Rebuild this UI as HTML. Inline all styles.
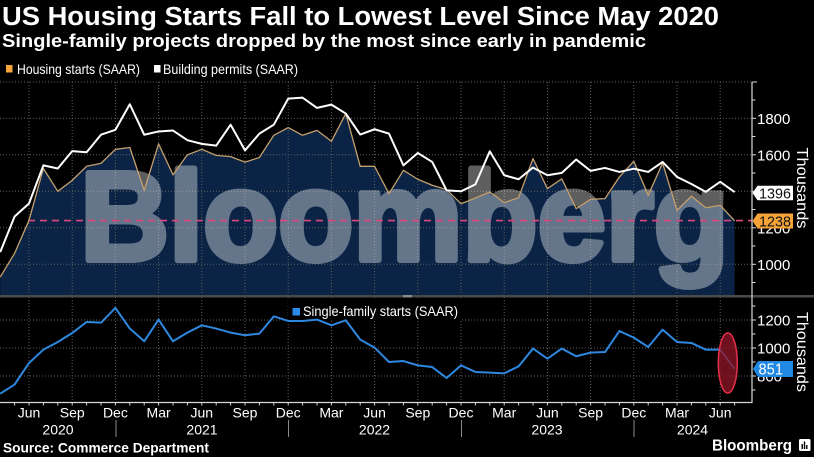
<!DOCTYPE html>
<html><head><meta charset="utf-8"><style>
html,body{margin:0;padding:0;background:#000;}
svg{display:block;}
text{font-family:"Liberation Sans",Arial,sans-serif;}
</style></head><body>
<svg width="814" height="457" viewBox="0 0 814 457" xmlns="http://www.w3.org/2000/svg">
<rect x="0" y="0" width="814" height="457" fill="#000"/>
<defs>
<clipPath id="topc"><rect x="0" y="80" width="752" height="215"/></clipPath>
<clipPath id="botc"><rect x="0" y="297" width="752" height="106"/></clipPath>
</defs>

<!-- Title -->
<text x="2" y="25" font-size="25.5" font-weight="bold" fill="#fff" textLength="717" lengthAdjust="spacingAndGlyphs">US Housing Starts Fall to Lowest Level Since May 2020</text>
<text x="2" y="47" font-size="18.5" font-weight="bold" fill="#fff" textLength="644" lengthAdjust="spacingAndGlyphs">Single-family projects dropped by the most since early in pandemic</text>

<!-- Legend top -->
<rect x="6" y="65" width="6.5" height="7.5" fill="#f5a33a"/>
<text x="17" y="74" font-size="14" fill="#fff" textLength="123" lengthAdjust="spacingAndGlyphs">Housing starts (SAAR)</text>
<rect x="154" y="65" width="6.5" height="7.5" fill="#fff"/>
<text x="163" y="74" font-size="14" fill="#fff" textLength="135" lengthAdjust="spacingAndGlyphs">Building permits (SAAR)</text>

<!-- TOP PANEL -->
<g clip-path="url(#topc)">
  <path transform="matrix(14.4 0 0 -0.1825 0.2 446.8)" fill="#0b2446" d="M0,820 L0,930 1,1060 2,1241 3,1525 4,1400 5,1460 6,1537 7,1553 8,1630 9,1640 10,1405 11,1660 12,1490 13,1600 14,1630 15,1597 16,1590 17,1560 18,1585 19,1707 20,1749 21,1707 22,1734 23,1674 24,1826 25,1537 26,1537 27,1387 28,1515 29,1466 30,1433 31,1409 32,1332 33,1363 34,1396 35,1338 36,1365 37,1579 38,1415 39,1468 40,1305 41,1356 42,1360 43,1479 44,1564 45,1378 46,1555 47,1296 48,1373 49,1310 50,1323 51,1238 L51,820 Z"/>
  <g stroke="#5f5f5f" stroke-width="1" stroke-dasharray="1,2" fill="none">
    <line x1="0" y1="82" x2="752" y2="82"/>
    <line x1="0" y1="118.3" x2="752" y2="118.3"/>
    <line x1="0" y1="154.8" x2="752" y2="154.8"/>
    <line x1="0" y1="191.3" x2="752" y2="191.3"/>
    <line x1="0" y1="227.8" x2="752" y2="227.8"/>
    <line x1="0" y1="264.3" x2="752" y2="264.3"/>
    <line x1="29" y1="82" x2="29" y2="295"/>
    <line x1="72.2" y1="82" x2="72.2" y2="295"/>
    <line x1="115.4" y1="82" x2="115.4" y2="295"/>
    <line x1="158.6" y1="82" x2="158.6" y2="295"/>
    <line x1="201.8" y1="82" x2="201.8" y2="295"/>
    <line x1="245" y1="82" x2="245" y2="295"/>
    <line x1="288.2" y1="82" x2="288.2" y2="295"/>
    <line x1="331.4" y1="82" x2="331.4" y2="295"/>
    <line x1="374.6" y1="82" x2="374.6" y2="295"/>
    <line x1="417.8" y1="82" x2="417.8" y2="295"/>
    <line x1="461" y1="82" x2="461" y2="295"/>
    <line x1="504.2" y1="82" x2="504.2" y2="295"/>
    <line x1="547.4" y1="82" x2="547.4" y2="295"/>
    <line x1="590.6" y1="82" x2="590.6" y2="295"/>
    <line x1="633.8" y1="82" x2="633.8" y2="295"/>
    <line x1="677" y1="82" x2="677" y2="295"/>
    <line x1="720.2" y1="82" x2="720.2" y2="295"/>
  </g>
  <g opacity="0.37">
    <text x="80.3" y="260" font-size="126" font-weight="bold" fill="#ffffff" stroke="#ffffff" stroke-width="6" stroke-linejoin="round" textLength="648.5" lengthAdjust="spacingAndGlyphs">Bloomberg</text>
  </g>
  <line x1="28" y1="220.6" x2="752" y2="220.6" stroke="#e0457e" stroke-width="1.6" stroke-dasharray="7,5"/>
  <polyline transform="matrix(14.4 0 0 -0.1825 0.2 446.8)" fill="none" stroke="#c4a06c" stroke-width="1.3" vector-effect="non-scaling-stroke" stroke-linejoin="round" points="0,930 1,1060 2,1241 3,1525 4,1400 5,1460 6,1537 7,1553 8,1630 9,1640 10,1405 11,1660 12,1490 13,1600 14,1630 15,1597 16,1590 17,1560 18,1585 19,1707 20,1749 21,1707 22,1734 23,1674 24,1826 25,1537 26,1537 27,1387 28,1515 29,1466 30,1433 31,1409 32,1332 33,1363 34,1396 35,1338 36,1365 37,1579 38,1415 39,1468 40,1305 41,1356 42,1360 43,1479 44,1564 45,1378 46,1555 47,1296 48,1373 49,1310 50,1323 51,1238"/>
  <polyline transform="matrix(14.4 0 0 -0.1825 0.2 446.8)" fill="none" stroke="#ffffff" stroke-width="2" vector-effect="non-scaling-stroke" stroke-linejoin="round" points="0,1067 1,1262 2,1333 3,1542 4,1525 5,1620 6,1614 7,1710 8,1737 9,1877 10,1710 11,1728 12,1733 13,1680 14,1660 15,1650 16,1765 17,1624 18,1716 19,1765 20,1908 21,1913 22,1857 23,1875 24,1826 25,1711 26,1740 27,1716 28,1542 29,1610 30,1561 31,1405 32,1400 33,1438 34,1619 35,1488 36,1466 37,1530 38,1488 39,1501 40,1574 41,1512 42,1528 43,1506 44,1524 45,1506 46,1561 47,1479 48,1440 49,1397 50,1452 51,1396"/>
</g>

<!-- separator -->
<rect x="0" y="295" width="814" height="2.5" fill="#4a4a4a"/>
<rect x="403" y="295" width="9" height="2.5" fill="#8a8a8a"/>

<!-- BOTTOM PANEL -->
<g clip-path="url(#botc)">
  <g stroke="#5f5f5f" stroke-width="1" stroke-dasharray="1,2" fill="none">
    <line x1="0" y1="320" x2="752" y2="320"/>
    <line x1="0" y1="348" x2="752" y2="348"/>
    <line x1="0" y1="376" x2="752" y2="376"/>
    <line x1="29" y1="297" x2="29" y2="402"/>
    <line x1="72.2" y1="297" x2="72.2" y2="402"/>
    <line x1="115.4" y1="297" x2="115.4" y2="402"/>
    <line x1="158.6" y1="297" x2="158.6" y2="402"/>
    <line x1="201.8" y1="297" x2="201.8" y2="402"/>
    <line x1="245" y1="297" x2="245" y2="402"/>
    <line x1="288.2" y1="297" x2="288.2" y2="402"/>
    <line x1="331.4" y1="297" x2="331.4" y2="402"/>
    <line x1="374.6" y1="297" x2="374.6" y2="402"/>
    <line x1="417.8" y1="297" x2="417.8" y2="402"/>
    <line x1="461" y1="297" x2="461" y2="402"/>
    <line x1="504.2" y1="297" x2="504.2" y2="402"/>
    <line x1="547.4" y1="297" x2="547.4" y2="402"/>
    <line x1="590.6" y1="297" x2="590.6" y2="402"/>
    <line x1="633.8" y1="297" x2="633.8" y2="402"/>
    <line x1="677" y1="297" x2="677" y2="402"/>
    <line x1="720.2" y1="297" x2="720.2" y2="402"/>
  </g>
  <rect x="288" y="300" width="174" height="21" fill="#000"/>
  <rect x="292.5" y="308" width="7.5" height="7.5" fill="#2a8be6"/>
  <text x="303" y="316" font-size="14" fill="#fff" textLength="155" lengthAdjust="spacingAndGlyphs">Single-family starts (SAAR)</text>
  <polyline transform="matrix(14.4 0 0 -0.14 0.2 488)" fill="none" stroke="#2e88df" stroke-width="2" vector-effect="non-scaling-stroke" stroke-linejoin="round" points="0,674 1,739 2,893 3,988 4,1043 5,1107 6,1186 7,1181 8,1286 9,1139 10,1048 11,1203 12,1048 13,1110 14,1162 15,1139 16,1110 17,1091 18,1103 19,1226 20,1193 21,1193 22,1203 23,1162 24,1198 25,1060 26,1003 27,900 28,907 29,876 30,864 31,786 32,876 33,829 34,824 35,819 36,869 37,996 38,924 39,996 40,941 41,967 42,971 43,1121 44,1074 45,1007 46,1131 47,1043 48,1036 49,988 50,988 51,851"/>
</g>
<ellipse cx="727.8" cy="363" rx="9.5" ry="30" fill="#8e1426" fill-opacity="0.78" stroke="#e3304c" stroke-width="1.5"/>

<!-- Right axis -->
<line x1="752" y1="82" x2="752" y2="403" stroke="#d8d8d8" stroke-width="1.2"/>
<g stroke="#d8d8d8" stroke-width="1">
  <line x1="752" y1="82" x2="757" y2="82"/>
  <line x1="752" y1="100" x2="755.5" y2="100"/>
  <line x1="752" y1="118.3" x2="756" y2="118.3"/>
  <line x1="752" y1="136.5" x2="755.5" y2="136.5"/>
  <line x1="752" y1="154.8" x2="756" y2="154.8"/>
  <line x1="752" y1="173" x2="755.5" y2="173"/>
  <line x1="752" y1="191.3" x2="756" y2="191.3"/>
  <line x1="752" y1="209.5" x2="755.5" y2="209.5"/>
  <line x1="752" y1="227.8" x2="756" y2="227.8"/>
  <line x1="752" y1="246" x2="755.5" y2="246"/>
  <line x1="752" y1="264.3" x2="756" y2="264.3"/>
  <line x1="752" y1="282.5" x2="755.5" y2="282.5"/>
  <line x1="752" y1="306" x2="755.5" y2="306"/>
  <line x1="752" y1="320" x2="756" y2="320"/>
  <line x1="752" y1="334" x2="755.5" y2="334"/>
  <line x1="752" y1="348" x2="756" y2="348"/>
  <line x1="752" y1="362" x2="755.5" y2="362"/>
  <line x1="752" y1="376" x2="756" y2="376"/>
  <line x1="752" y1="390" x2="755.5" y2="390"/>
</g>
<g font-size="15" fill="#fff">
  <text x="757" y="123.8">1800</text>
  <text x="757" y="160.3">1600</text>
  <text x="757" y="196.8">1400</text>
  <text x="757" y="233.3">1200</text>
  <text x="757" y="269.8">1000</text>
  <text x="757" y="325.5">1200</text>
  <text x="757" y="353.5">1000</text>
  <text x="757" y="381.5">800</text>
</g>
<text transform="rotate(90 797 147.5)" x="797" y="147.5" font-size="16" fill="#fff" textLength="81" lengthAdjust="spacingAndGlyphs">Thousands</text>
<text transform="rotate(90 797 312)" x="797" y="312" font-size="16" fill="#fff" textLength="80" lengthAdjust="spacingAndGlyphs">Thousands</text>

<!-- value labels -->
<polygon points="752.5,193 757.5,185.8 793,185.8 793,200.3 757.5,200.3" fill="#fff"/>
<text x="759" y="198.6" font-size="15" fill="#111" textLength="32" lengthAdjust="spacingAndGlyphs">1396</text>
<polygon points="752.5,221 757.5,213.5 793,213.5 793,228.5 757.5,228.5" fill="#f6a43a"/>
<text x="759" y="226.6" font-size="15" fill="#111" textLength="32" lengthAdjust="spacingAndGlyphs">1238</text>
<polygon points="753,369 758,361 793,361 793,377 758,377" fill="#2189e4"/>
<text x="758.5" y="374.6" font-size="15.5" fill="#fff" textLength="24.5" lengthAdjust="spacingAndGlyphs">851</text>

<!-- bottom x axis -->
<line x1="0" y1="402.5" x2="752" y2="402.5" stroke="#d8d8d8" stroke-width="1.2"/>
<g stroke="#d8d8d8" stroke-width="1">
  <line x1="14.6" y1="402.5" x2="14.6" y2="405.5"/><line x1="29" y1="402.5" x2="29" y2="405.5"/><line x1="43.4" y1="402.5" x2="43.4" y2="405.5"/><line x1="57.8" y1="402.5" x2="57.8" y2="405.5"/><line x1="72.2" y1="402.5" x2="72.2" y2="405.5"/><line x1="86.6" y1="402.5" x2="86.6" y2="405.5"/><line x1="101" y1="402.5" x2="101" y2="405.5"/><line x1="115.4" y1="402.5" x2="115.4" y2="405.5"/><line x1="129.8" y1="402.5" x2="129.8" y2="405.5"/><line x1="144.2" y1="402.5" x2="144.2" y2="405.5"/><line x1="158.6" y1="402.5" x2="158.6" y2="405.5"/><line x1="173" y1="402.5" x2="173" y2="405.5"/><line x1="187.4" y1="402.5" x2="187.4" y2="405.5"/><line x1="201.8" y1="402.5" x2="201.8" y2="405.5"/><line x1="216.2" y1="402.5" x2="216.2" y2="405.5"/><line x1="230.6" y1="402.5" x2="230.6" y2="405.5"/><line x1="245" y1="402.5" x2="245" y2="405.5"/><line x1="259.4" y1="402.5" x2="259.4" y2="405.5"/><line x1="273.8" y1="402.5" x2="273.8" y2="405.5"/><line x1="288.2" y1="402.5" x2="288.2" y2="405.5"/><line x1="302.6" y1="402.5" x2="302.6" y2="405.5"/><line x1="317" y1="402.5" x2="317" y2="405.5"/><line x1="331.4" y1="402.5" x2="331.4" y2="405.5"/><line x1="345.8" y1="402.5" x2="345.8" y2="405.5"/><line x1="360.2" y1="402.5" x2="360.2" y2="405.5"/><line x1="374.6" y1="402.5" x2="374.6" y2="405.5"/><line x1="389" y1="402.5" x2="389" y2="405.5"/><line x1="403.4" y1="402.5" x2="403.4" y2="405.5"/><line x1="417.8" y1="402.5" x2="417.8" y2="405.5"/><line x1="432.2" y1="402.5" x2="432.2" y2="405.5"/><line x1="446.6" y1="402.5" x2="446.6" y2="405.5"/><line x1="461" y1="402.5" x2="461" y2="405.5"/><line x1="475.4" y1="402.5" x2="475.4" y2="405.5"/><line x1="489.8" y1="402.5" x2="489.8" y2="405.5"/><line x1="504.2" y1="402.5" x2="504.2" y2="405.5"/><line x1="518.6" y1="402.5" x2="518.6" y2="405.5"/><line x1="533" y1="402.5" x2="533" y2="405.5"/><line x1="547.4" y1="402.5" x2="547.4" y2="405.5"/><line x1="561.8" y1="402.5" x2="561.8" y2="405.5"/><line x1="576.2" y1="402.5" x2="576.2" y2="405.5"/><line x1="590.6" y1="402.5" x2="590.6" y2="405.5"/><line x1="605" y1="402.5" x2="605" y2="405.5"/><line x1="619.4" y1="402.5" x2="619.4" y2="405.5"/><line x1="633.8" y1="402.5" x2="633.8" y2="405.5"/><line x1="648.2" y1="402.5" x2="648.2" y2="405.5"/><line x1="662.6" y1="402.5" x2="662.6" y2="405.5"/><line x1="677" y1="402.5" x2="677" y2="405.5"/><line x1="691.4" y1="402.5" x2="691.4" y2="405.5"/><line x1="705.8" y1="402.5" x2="705.8" y2="405.5"/><line x1="720.2" y1="402.5" x2="720.2" y2="405.5"/><line x1="734.6" y1="402.5" x2="734.6" y2="405.5"/>
</g>
<g font-size="14" fill="#fff" text-anchor="middle">
  <text x="29" y="417.7">Jun</text>
  <text x="72.2" y="417.7">Sep</text>
  <text x="115.4" y="417.7">Dec</text>
  <text x="158.6" y="417.7">Mar</text>
  <text x="201.8" y="417.7">Jun</text>
  <text x="245" y="417.7">Sep</text>
  <text x="288.2" y="417.7">Dec</text>
  <text x="331.4" y="417.7">Mar</text>
  <text x="374.6" y="417.7">Jun</text>
  <text x="417.8" y="417.7">Sep</text>
  <text x="461" y="417.7">Dec</text>
  <text x="504.2" y="417.7">Mar</text>
  <text x="547.4" y="417.7">Jun</text>
  <text x="590.6" y="417.7">Sep</text>
  <text x="633.8" y="417.7">Dec</text>
  <text x="677" y="417.7">Mar</text>
  <text x="720.2" y="417.7">Jun</text>
  <text x="58" y="434.5">2020</text>
  <text x="202" y="434.5">2021</text>
  <text x="374.5" y="434.5">2022</text>
  <text x="547" y="434.5">2023</text>
  <text x="692.5" y="434.5">2024</text>
</g>
<g stroke="#8a8a8a" stroke-width="1">
  <line x1="116" y1="420" x2="116" y2="437"/>
  <line x1="288.5" y1="420" x2="288.5" y2="437"/>
  <line x1="461.5" y1="420" x2="461.5" y2="437"/>
  <line x1="634" y1="420" x2="634" y2="437"/>
</g>

<!-- footer -->
<text x="3" y="452.3" font-size="13.5" font-weight="bold" fill="#fff" textLength="206" lengthAdjust="spacingAndGlyphs">Source: Commerce Department</text>
<text x="712" y="450.5" font-size="16" font-weight="bold" fill="#fff" textLength="80" lengthAdjust="spacingAndGlyphs">Bloomberg</text>
<rect x="799" y="439" width="11.5" height="12" rx="1.5" fill="#fff"/>
<g fill="#000">
  <rect x="801.5" y="444" width="1.4" height="5"/>
  <rect x="803.8" y="441.5" width="1.4" height="7.5"/>
  <rect x="806.1" y="445" width="1.4" height="4"/>
</g>
</svg>
</body></html>
